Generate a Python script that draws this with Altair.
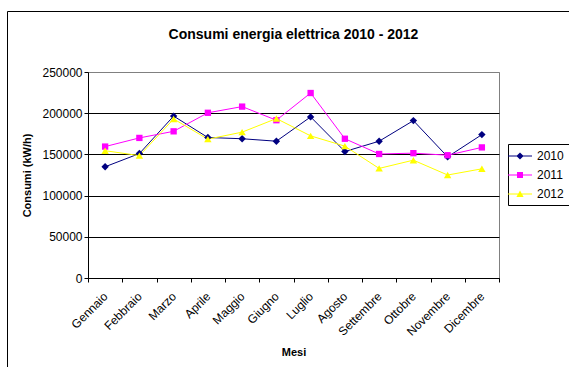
import altair as alt
import pandas as pd

mesi = ["Gennaio", "Febbraio", "Marzo", "Aprile", "Maggio", "Giugno",
        "Luglio", "Agosto", "Settembre", "Ottobre", "Novembre", "Dicembre"]
anni = ["2010", "2011", "2012"]
v2010 = [135000, 151000, 196500, 170500, 169000, 166000,
         195500, 153500, 166000, 191000, 147000, 174000]
v2011 = [159500, 170000, 178000, 200500, 208000, 191500,
         224500, 169000, 150500, 151500, 149000, 158500]
v2012 = [154500, 148500, 193000, 168500, 177000, 193500,
         172500, 160000, 133000, 143000, 125000, 132500]
colori = ["#000080", "#FF00FF", "#FFFF00"]
forme = ["diamond", "square", "triangle-up"]
# legend symbols: short line + marker
leg_paths = [
    "M-2,-0.09H2V0.09H-2Z M0,-0.6L0.6,0L0,0.6L-0.6,0Z",
    "M-2,-0.09H2V0.09H-2Z M-0.5,-0.5H0.5V0.5H-0.5Z",
    "M-2,-0.09H2V0.09H-2Z M0,-0.6L0.6,0.5H-0.6Z",
]
y_ticks = [0, 50000, 100000, 150000, 200000, 250000]

rows = []
for anno, vals in zip(anni, [v2010, v2011, v2012]):
    for m, v in zip(mesi, vals):
        rows.append({"mese": m, "anno": anno, "valore": v})
df = pd.DataFrame(rows)

FONT = "Liberation Sans"
W, H = 411, 206

x_enc = alt.X("mese:N", sort=mesi, title="Mesi",
              axis=alt.Axis(labelAngle=-45, labelAlign="right", labelBaseline="middle",
                            labelFontSize=12, labelPadding=12, tickBand="extent",
                            tickSize=4, tickColor="black", domainColor="black",
                            grid=False, titleFontSize=11, titleFontWeight="bold",
                            titleX=W / 2, titleY=74, titleBaseline="middle",
                            titleAlign="center"))
y_enc = alt.Y("valore:Q", title="Consumi (kW/h)",
              scale=alt.Scale(domain=[0, 250000], nice=False),
              axis=alt.Axis(values=y_ticks, format="d", labelFontSize=12,
                            labelPadding=2, tickSize=4, tickColor="black",
                            domainColor="black",
                            gridColor={"condition": {"test": "datum.value >= 250000",
                                                     "value": "#808080"},
                                       "value": "black"},
                            gridOpacity=1, titleFontSize=11, titleFontWeight="bold",
                            titleX=-61, titleY=H / 2, titleAngle=-90,
                            titleBaseline="middle", titleAlign="center"))

base = alt.Chart(df)

series_layers = []
for anno, col in zip(anni, colori):
    series_layers.append(
        base.transform_filter(alt.datum.anno == anno)
        .mark_line(strokeWidth=1, color=col)
        .encode(x=x_enc, y=y_enc)
    )
for anno, col, shp, sz in zip(anni, colori, forme, [55, 40, 55]):
    series_layers.append(
        base.transform_filter(alt.datum.anno == anno)
        .mark_point(filled=True, opacity=1, shape=shp, size=sz, color=col)
        .encode(x=x_enc, y=y_enc)
    )

legend_layer = base.transform_filter("datum.valore < 0").mark_point(
    filled=True, opacity=1, strokeWidth=0
).encode(
    color=alt.Color("anno:N", scale=alt.Scale(domain=anni, range=colori),
                    legend=alt.Legend(title=None, orient="none", legendX=420, legendY=72,
                                      strokeColor="black", fillColor="white",
                                      padding=5, labelFontSize=12, labelFont=FONT,
                                      symbolSize=144, rowPadding=6, labelOffset=10)),
    shape=alt.Shape("anno:N", scale=alt.Scale(domain=anni, range=leg_paths)),
)

border_df = pd.DataFrame({"k": [0]})
border_left = alt.Chart(border_df).mark_rule(color="black", strokeWidth=1).encode(
    x=alt.value(-80.5), y=alt.value(-60.5), y2=alt.value(300))
border_top = alt.Chart(border_df).mark_rule(color="black", strokeWidth=1).encode(
    x=alt.value(-80.5), x2=alt.value(490), y=alt.value(-60.5))

chart = alt.layer(
    border_left, border_top, *series_layers, legend_layer
).properties(
    width=W, height=H,
    title=alt.Title("Consumi energia elettrica 2010 - 2012", fontSize=14,
                    fontWeight="bold", font=FONT, anchor="middle", frame="group",
                    offset=0, dy=31, color="black"),
    autosize=alt.AutoSizeParams(type="none"),
    padding={"left": 88, "top": 72, "right": 70, "bottom": 89},
).configure(
    background="white",
    font=FONT,
).configure_view(
    fill="#C0C0C0", stroke="#808080", strokeWidth=1,
).configure_axis(
    labelFont=FONT, titleFont=FONT, labelColor="black", titleColor="black",
)

chart.save("out.html", embed_options={"renderer": "svg", "actions": False})
